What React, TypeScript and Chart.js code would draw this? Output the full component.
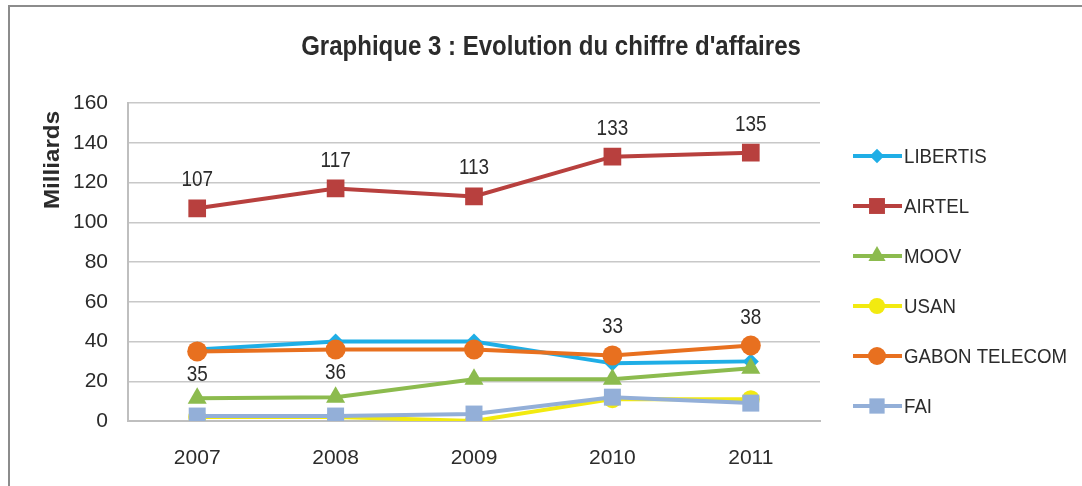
import React, { useEffect, useRef } from 'react';
import { Chart, registerables } from 'chart.js';

Chart.register(...registerables);

const years = ['2007', '2008', '2009', '2010', '2011'];
const libertis = [36, 40, 40, 29, 30];
const airtel = [107, 117, 113, 133, 135];
const moov = [11.5, 12, 21, 21, 26.5];
const usan = [2, 2, 0, 11, 11];
const gabonTelecom = [35, 36, 36, 33, 38];
const fai = [2.5, 2.5, 3.5, 12, 9];

const seriesNames = ['LIBERTIS', 'AIRTEL', 'MOOV', 'USAN', 'GABON TELECOM', 'FAI'];
const seriesColors = ['#1FAEE6', '#B8403E', '#8CBB4E', '#F2EA10', '#E8701F', '#93AFD8'];
const seriesPointStyles = ['rectRot', 'rect', 'triangle', 'circle', 'circle', 'rect'];
const seriesPointRadius = [8, 12.5, 11, 9, 10, 12];

// label positions per point (null = no label)
const airtelLabelPos = ['above', 'above', 'above', 'above', 'above'];
const gabonLabelPos = ['below', 'below', null, 'above', 'above'];

const yMin = 0;
const yMax = 160;
const yStep = 20;

const titleText = "Graphique 3 : Evolution du chiffre d'affaires";
const yTitleText = 'Milliards';

const FONT = "'Liberation Sans', Arial, sans-serif";
const TEXT_COLOR = '#2B2B2B';

function fillTextScaled(ctx: CanvasRenderingContext2D, text: string, x: number, y: number, sx: number) {
  ctx.save();
  ctx.translate(x, y);
  ctx.scale(sx, 1);
  ctx.fillText(text, 0, 0);
  ctx.restore();
}

function drawMarker(ctx: CanvasRenderingContext2D, style: string, x: number, y: number, r: number, color: string) {
  ctx.save();
  ctx.fillStyle = color;
  ctx.beginPath();
  if (style === 'circle') {
    ctx.arc(x, y, r, 0, Math.PI * 2);
  } else if (style === 'rect') {
    const s = Math.SQRT1_2 * r;
    ctx.rect(x - s, y - s, 2 * s, 2 * s);
  } else if (style === 'rectRot') {
    ctx.moveTo(x, y - r);
    ctx.lineTo(x + r, y);
    ctx.lineTo(x, y + r);
    ctx.lineTo(x - r, y);
    ctx.closePath();
  } else if (style === 'triangle') {
    ctx.moveTo(x, y - r);
    ctx.lineTo(x + Math.sin(Math.PI / 3) * r, y + 0.5 * r);
    ctx.lineTo(x - Math.sin(Math.PI / 3) * r, y + 0.5 * r);
    ctx.closePath();
  }
  ctx.fill();
  ctx.restore();
}

const customPlugin = {
  id: 'customDecor',
  beforeDraw(chart: any) {
    const ctx = chart.ctx;
    ctx.save();
    ctx.fillStyle = '#ffffff';
    ctx.fillRect(0, 0, chart.width, chart.height);
    ctx.restore();
  },
  afterDatasetsDraw(chart: any) {
    const ctx = chart.ctx;
    ctx.save();
    ctx.font = `22px ${FONT}`;
    ctx.fillStyle = TEXT_COLOR;
    ctx.textAlign = 'center';
    ctx.textBaseline = 'middle';
    const drawLabels = (dsIndex: number, values: number[], pos: (string | null)[]) => {
      const meta = chart.getDatasetMeta(dsIndex);
      meta.data.forEach((pt: any, i: number) => {
        const p = pos[i];
        if (!p) return;
        const dy = p === 'above' ? -28 : 23;
        fillTextScaled(ctx, String(Math.round(values[i])), pt.x, pt.y + dy, 0.86);
      });
    };
    drawLabels(1, airtel, airtelLabelPos);
    drawLabels(4, gabonTelecom, gabonLabelPos);
    ctx.restore();
  },
  afterDraw(chart: any) {
    const ctx = chart.ctx;
    ctx.save();
    // title
    ctx.font = `bold 27px ${FONT}`;
    ctx.fillStyle = TEXT_COLOR;
    ctx.textAlign = 'center';
    ctx.textBaseline = 'middle';
    fillTextScaled(ctx, titleText, 551, 48, 0.89);
    // y-axis title
    ctx.save();
    ctx.translate(53, 160);
    ctx.rotate(-Math.PI / 2);
    ctx.font = `bold 22px ${FONT}`;
    fillTextScaled(ctx, yTitleText, 0, 0, 1.1);
    ctx.restore();
    // legend
    ctx.font = `21px ${FONT}`;
    ctx.textAlign = 'left';
    seriesNames.forEach((name, i) => {
      const y = 156 + i * 50;
      ctx.save();
      ctx.strokeStyle = seriesColors[i];
      ctx.lineWidth = 4;
      ctx.beginPath();
      ctx.moveTo(853, y);
      ctx.lineTo(902, y);
      ctx.stroke();
      ctx.restore();
      drawMarker(ctx, seriesPointStyles[i], 877, y, seriesPointRadius[i] * 0.9, seriesColors[i]);
      ctx.fillStyle = TEXT_COLOR;
      fillTextScaled(ctx, name, 904, y + 1, 0.89);
    });
    ctx.restore();
  },
};

export default function App() {
  const canvasRef = useRef<HTMLCanvasElement | null>(null);

  useEffect(() => {
    if (!canvasRef.current) return;
    const seriesData = [libertis, airtel, moov, usan, gabonTelecom, fai];
    const chart = new Chart(canvasRef.current, {
      type: 'line',
      data: {
        labels: years,
        datasets: seriesNames.map((name, i) => ({
          label: name,
          data: seriesData[i],
          borderColor: seriesColors[i],
          backgroundColor: seriesColors[i],
          borderWidth: 4,
          pointStyle: seriesPointStyles[i] as any,
          pointRadius: seriesPointRadius[i],
          pointBorderWidth: 0,
          pointBackgroundColor: seriesColors[i],
          pointBorderColor: seriesColors[i],
          tension: 0,
          fill: false,
          order: seriesNames.length - i,
        })),
      },
      options: {
        responsive: false,
        animation: false,
        devicePixelRatio: 1,
        layout: { padding: { top: 103, left: 30, right: 262, bottom: 0 } },
        plugins: {
          legend: { display: false },
          title: { display: false },
          tooltip: { enabled: false },
        },
        scales: {
          x: {
            offset: true,
            grid: { display: false, drawTicks: false },
            border: { display: true, color: '#BFBFBF', width: 2 },
            ticks: {
              color: TEXT_COLOR,
              font: { family: FONT, size: 21 },
              padding: 25,
            },
            afterFit: (scale: any) => {
              scale.height = 65;
            },
          },
          y: {
            min: yMin,
            max: yMax,
            grid: { color: '#C8C8C8', lineWidth: 1.5, drawTicks: false },
            border: { display: true, color: '#BFBFBF', width: 2 },
            ticks: {
              stepSize: yStep,
              color: TEXT_COLOR,
              font: { family: FONT, size: 21 },
              padding: 20,
            },
            afterFit: (scale: any) => {
              scale.width = 98;
            },
          },
        },
      },
      plugins: [customPlugin],
    });
    return () => chart.destroy();
  }, []);

  return (
    <div style={{ position: 'fixed', left: 0, top: 0, width: 1082, height: 486, background: '#fff' }}>
      <canvas ref={canvasRef} width={1082} height={486} style={{ position: 'absolute', left: 0, top: 0, width: 1082, height: 486 }} />
      <div
        style={{
          position: 'absolute',
          left: 8,
          top: 5,
          width: 1074,
          height: 481,
          borderTop: '2px solid #8C8C8C',
          borderLeft: '2px solid #8C8C8C',
          boxSizing: 'border-box',
          pointerEvents: 'none',
        }}
      />
    </div>
  );
}
